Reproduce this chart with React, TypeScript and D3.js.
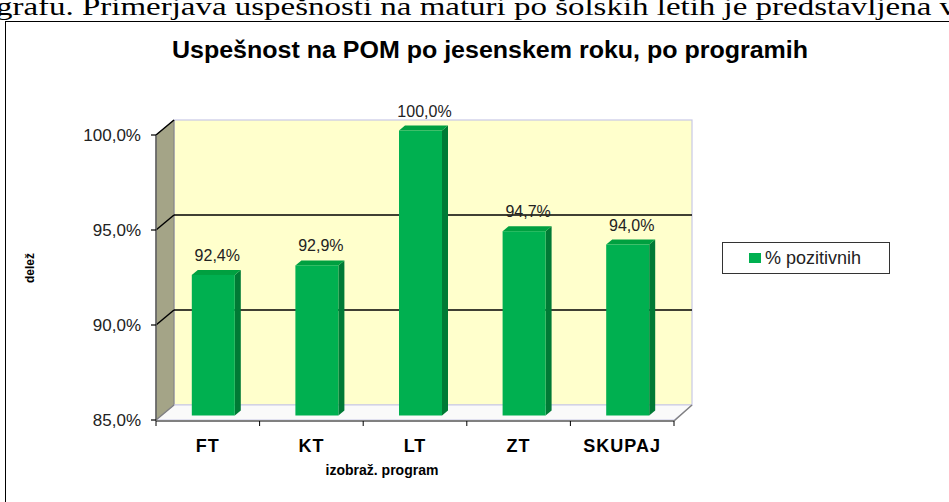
import React from "react";
import * as d3 from "d3";

const categories = ["FT", "KT", "LT", "ZT", "SKUPAJ"];
const values = [92.4, 92.9, 100.0, 94.7, 94.0];
const valueLabels = ["92,4%", "92,9%", "100,0%", "94,7%", "94,0%"];
const yTicks = [85, 90, 95, 100];
const yTickLabels = ["85,0%", "90,0%", "95,0%", "100,0%"];
const gridValues = [90, 95];
const seriesName = "% pozitivnih";

const W = 949;
const H = 502;
const FONT = "'Liberation Sans', Arial, sans-serif";

export default function App() {
  const x = d3.scaleBand<string>().domain(categories).range([156, 674]).paddingInner(0).paddingOuter(0);
  const y = d3.scaleLinear().domain([85, 100]).range([420, 135]);
  const DX = 18, DY = -15; // wall depth
  const bOX = 5.5, bOY = -4.5; // bar front plane offset
  const bDX = 6, bDY = -5; // bar depth
  const barW = 43;

  const x0 = x.range()[0];
  const x1 = x.range()[1];
  const yTop = y(100);
  const yBot = y(85);

  const pts = (arr: number[][]) => arr.map((p) => p.join(",")).join(" ");

  return (
    <svg width={W} height={H} style={{ position: "absolute", left: 0, top: 0, background: "#fff" }}>
      <text x={-4} y={15} fontFamily="'Liberation Serif', 'Times New Roman', serif" fontSize={25} fill="#000" textLength={960} lengthAdjust="spacingAndGlyphs">
        grafu. Primerjava uspešnosti na maturi po šolskih letih je predstavljena v
      </text>
      <rect x={5.5} y={21.5} width={1000} height={600} fill="#fff" stroke="#000" strokeWidth={1} />

      <text x={490} y={58} textAnchor="middle" fontFamily={FONT} fontWeight="bold" fontSize={23} fill="#000" textLength={636} lengthAdjust="spacingAndGlyphs">
        Uspešnost na POM po jesenskem roku, po programih
      </text>

      {/* back wall */}
      <rect x={x0 + DX} y={yTop + DY} width={x1 - x0} height={yBot - yTop} fill="#FFFFCC" stroke="#C8C8E6" strokeWidth={1.2} />
      {/* side wall */}
      <polygon points={pts([[x0, yTop], [x0 + DX, yTop + DY], [x0 + DX, yBot + DY], [x0, yBot]])} fill="#A4A487" stroke="#808080" strokeWidth={1} />
      {/* floor */}
      <polygon points={pts([[x0, yBot], [x1, yBot], [x1 + DX, yBot + DY], [x0 + DX, yBot + DY]])} fill="#FAFAFA" stroke="#C8C8E6" strokeWidth={1} />

      {/* grid lines */}
      {gridValues.map((v) => (
        <line key={"g" + v} x1={x0 + DX} x2={x1 + DX} y1={y(v) + DY} y2={y(v) + DY} stroke="#000" strokeWidth={1.5} />
      ))}
      {yTicks.map((v) => (
        <line key={"d" + v} x1={x0} y1={y(v)} x2={x0 + DX} y2={y(v) + DY} stroke={v === 85 ? "#808080" : "#000"} strokeWidth={1.5} />
      ))}

      {/* floor front edges */}
      <line x1={x0} x2={x1} y1={yBot + 1} y2={yBot + 1} stroke="#808080" strokeWidth={2} />
      <line x1={x1} y1={yBot + 1} x2={x1 + DX} y2={yBot + DY} stroke="#808080" strokeWidth={1.5} />
      {/* front vertical axis */}
      <line x1={x0} x2={x0} y1={yTop} y2={yBot + 1} stroke="#606060" strokeWidth={1.5} />

      {/* y ticks */}
      {yTicks.map((v, i) => (
        <g key={"t" + v}>
          <line x1={x0 - 5} x2={x0} y1={y(v)} y2={y(v)} stroke="#000" strokeWidth={1.2} />
          <text x={141} y={y(v) + 6} textAnchor="end" fontFamily={FONT} fontSize={17} fill="#222">
            {yTickLabels[i]}
          </text>
        </g>
      ))}

      {/* x ticks */}
      {[...categories.map((c) => x(c) as number), x1].map((xv, i) => (
        <line key={"xt" + i} x1={xv} x2={xv} y1={yBot + 1} y2={yBot + 6} stroke="#000" strokeWidth={1} />
      ))}

      {/* bars */}
      {categories.map((c, i) => {
        const cx = (x(c) as number) + x.bandwidth() / 2 + bOX;
        const l = cx - barW / 2;
        const r = cx + barW / 2;
        const t = y(values[i]) + bOY;
        const b = yBot + bOY;
        return (
          <g key={c}>
            <polygon points={pts([[r, t], [r + bDX, t + bDY], [r + bDX, b + bDY], [r, b]])} fill="#007A35" />
            <polygon points={pts([[l, t], [l + bDX, t + bDY], [r + bDX, t + bDY], [r, t]])} fill="#00A040" />
            <rect x={l} y={t} width={barW} height={b - t} fill="#00B050" />
            <text x={cx + 4} y={t + bDY - 9} textAnchor="middle" fontFamily={FONT} fontSize={16} fill="#222">
              {valueLabels[i]}
            </text>
          </g>
        );
      })}

      {/* category labels */}
      {categories.map((c) => (
        <text key={"c" + c} x={(x(c) as number) + x.bandwidth() / 2} y={452} textAnchor="middle" fontFamily={FONT} fontWeight="bold" fontSize={18} letterSpacing={1} fill="#000">
          {c}
        </text>
      ))}

      {/* axis titles */}
      <text x={382} y={475} textAnchor="middle" fontFamily={FONT} fontWeight="bold" fontSize={14} fill="#000">
        izobraž. program
      </text>
      <text transform="translate(34,268) rotate(-90)" textAnchor="middle" fontFamily={FONT} fontWeight="bold" fontSize={12} fill="#000">
        delež
      </text>

      {/* legend */}
      <rect x={722.5} y={242.5} width={167} height={31} fill="#fff" stroke="#333" strokeWidth={1} />
      <rect x={749} y={253} width={12} height={10} fill="#00B050" />
      <text x={765} y={264} fontFamily={FONT} fontSize={18} fill="#222">
        {seriesName}
      </text>
    </svg>
  );
}
